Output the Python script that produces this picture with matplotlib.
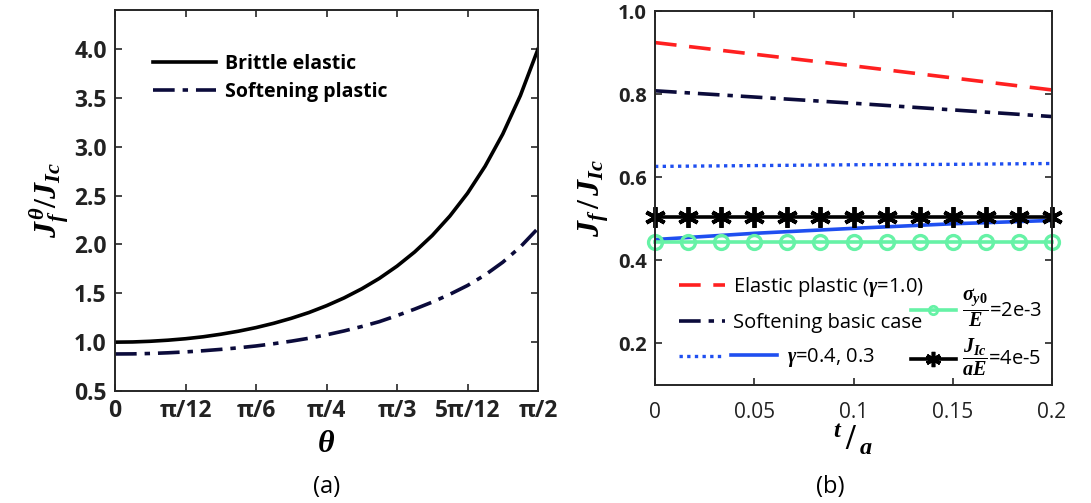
import numpy as np
import matplotlib
matplotlib.use("Agg")
import matplotlib.pyplot as plt
from matplotlib.lines import Line2D

plt.rcParams['font.family'] = ['Open Sans', 'DejaVu Sans']
plt.rcParams['mathtext.fontset'] = 'custom'
plt.rcParams['mathtext.it'] = 'Liberation Serif:italic:bold'
plt.rcParams['mathtext.rm'] = 'Liberation Serif:bold'
plt.rcParams['mathtext.bf'] = 'Liberation Serif:bold'

# ---------------- data (a) ----------------
theta_steps = list(range(25))          # theta = k*pi/48
brittle_elastic = [1.000, 1.002, 1.009, 1.020, 1.035, 1.055, 1.081, 1.112, 1.149,
                   1.193, 1.244, 1.303, 1.373, 1.453, 1.546, 1.653, 1.778, 1.923,
                   2.092, 2.291, 2.524, 2.801, 3.130, 3.524, 4.000]
softening_plastic = [0.879, 0.880, 0.884, 0.891, 0.900, 0.912, 0.926, 0.942, 0.961,
                     0.984, 1.010, 1.040, 1.075, 1.115, 1.160, 1.210, 1.272, 1.338,
                     1.410, 1.490, 1.580, 1.688, 1.818, 1.975, 2.165]
theta_tick_labels = ['0', 'π/12', 'π/6', 'π/4', 'π/3', '5π/12', 'π/2']
a_yticks = [0.5, 1.0, 1.5, 2.0, 2.5, 3.0, 3.5, 4.0]

# ---------------- data (b) ----------------
t_line = [0.0, 0.05, 0.10, 0.15, 0.20]
elastic_plastic = [0.924, 0.896, 0.868, 0.839, 0.810]
softening_basic = [0.808, 0.793, 0.778, 0.762, 0.746]
gamma_04 = [0.626, 0.628, 0.630, 0.631, 0.633]
gamma_03 = [0.450, 0.465, 0.477, 0.488, 0.496]
t_mark = [0.0, 0.2/12, 0.4/12, 0.6/12, 0.8/12, 1.0/12, 1.2/12, 1.4/12, 1.6/12,
          1.8/12, 2.0/12, 2.2/12, 0.2]
sigma_case = [0.445] * 13
jic_case = [0.504] * 13
b_xticks = [0, 0.05, 0.1, 0.15, 0.2]
b_xticklabels = ['0', '0.05', '0.1', '0.15', '0.2']
b_yticks = [0.2, 0.4, 0.6, 0.8, 1.0]

NAVY = '#0b0b3b'
RED = '#ff2020'
BLUE = '#1f4ff0'
GREEN = '#66f2a6'
SPINE = '#262626'

fig = plt.figure(figsize=(10.91, 5.03), dpi=100)
W, H = 1091, 503
def axrect(x0, x1, ytop, ybot):
    return [x0 / W, (H - ybot) / H, (x1 - x0) / W, (ybot - ytop) / H]

axa = fig.add_axes(axrect(115, 538, 10, 391))
axb = fig.add_axes(axrect(655, 1052, 11, 385))

def style(ax):
    for s in ax.spines.values():
        s.set_color(SPINE)
        s.set_linewidth(1.4)
    ax.tick_params(direction='in', length=5, width=1.2, color=SPINE,
                   top=True, right=True, labelcolor='#222222', pad=6)

DASHDOT = (0, (6, 2.2, 1.5, 2.2))

# ---- (a)
th = [k * np.pi / 48 for k in theta_steps]
axa.plot(th, brittle_elastic, color='black', lw=2.6, label='Brittle elastic')
axa.plot(th, softening_plastic, color=NAVY, lw=2.6, ls=DASHDOT,
         label='Softening plastic')
axa.set_xlim(0, np.pi / 2)
axa.set_ylim(0.5, 4.4)
axa.set_xticks([k * np.pi / 12 for k in range(7)])
axa.set_xticklabels(theta_tick_labels, fontsize=16.5, fontweight='bold')
axa.set_yticks(a_yticks)
axa.set_yticklabels([f'{v:.1f}' for v in a_yticks], fontsize=16.5, fontweight='bold')
style(axa)
axa.set_xlabel(r'$\theta$', fontsize=23, labelpad=3)
axa.set_ylabel(r'$J^{\theta}_{f}/J_{Ic}$', fontsize=23, labelpad=2)
axa.legend(loc='upper left', bbox_to_anchor=(0.068, 0.91), frameon=False,
           borderpad=0, handlelength=3.2, handletextpad=0.5, labelspacing=0.42,
           prop={'family': 'Open Sans', 'weight': 'bold', 'size': 14})

# ---- (b)
axb.plot(t_line, elastic_plastic, color=RED, lw=2.6, ls=(0, (6, 3.5)))
axb.plot(t_line, softening_basic, color=NAVY, lw=2.6, ls=DASHDOT)
axb.plot(t_line, gamma_04, color=BLUE, lw=2.4, ls=(0, (1, 1.3)))
axb.plot(t_line, gamma_03, color=BLUE, lw=2.6)
axb.plot(t_mark, sigma_case, color=GREEN, lw=2.6, marker='o', ms=10,
         mfc='none', mec=GREEN, mew=2.4, clip_on=False)
axb.plot(t_mark, jic_case, color='black', lw=2.6, marker=(6, 2, 0), ms=15,
         mec='black', mew=2.8, clip_on=False)
axb.set_xlim(0, 0.2)
axb.set_ylim(0.1, 1.0)
axb.set_xticks(b_xticks)
axb.set_xticklabels(b_xticklabels, fontsize=15)
axb.set_yticks(b_yticks)
axb.set_yticklabels([f'{v:.1f}' for v in b_yticks], fontsize=14.5, fontweight='bold')
style(axb)
axb.tick_params(axis='x', pad=12)
axb.tick_params(axis='y', pad=6)
axb.set_xlabel(r'${}^{t}\,/\,{}_{a}$', fontsize=25, labelpad=0)
axb.set_ylabel(r'$J_{f}\,/\,J_{Ic}$', fontsize=23, labelpad=5)

lprop = {'family': 'Open Sans', 'size': 14.5}
h1 = [Line2D([], [], color=RED, lw=2.6, ls=(0, (6, 3.5))),
      Line2D([], [], color=NAVY, lw=2.6, ls=DASHDOT),
      Line2D([], [], color=BLUE, lw=2.4, ls=(0, (1, 1.3)))]
leg1 = axb.legend(h1, [r'Elastic plastic ($\gamma$=1.0)', 'Softening basic case', ''],
                  loc='upper left', bbox_to_anchor=(0.035, 0.322), frameon=False,
                  handlelength=2.3, handletextpad=0.4, labelspacing=0.72, prop=lprop,
                  borderpad=0)
axb.add_artist(leg1)
h2 = [Line2D([], [], color=BLUE, lw=2.6)]
leg2 = axb.legend(h2, [r'$\gamma$=0.4, 0.3'], loc='upper left',
                  bbox_to_anchor=(0.165, 0.13), frameon=False, handlelength=2.3,
                  handletextpad=0.5, prop=lprop, borderpad=0)
axb.add_artist(leg2)
h3 = [Line2D([], [], color=GREEN, lw=2.6, marker='o', ms=6, mfc='none', mec=GREEN, mew=2),
      Line2D([], [], color='black', lw=2.6, marker=(6, 2, 0), ms=11, mec='black', mew=2.6)]
leg3 = axb.legend(h3, [r'$\dfrac{\sigma_{y0}}{E}$=2e-3', r'$\dfrac{J_{Ic}}{aE}$=4e-5'],
                  loc='upper left', bbox_to_anchor=(0.62, 0.29), frameon=False,
                  handlelength=2.2, handletextpad=0.3, labelspacing=0.38, prop=lprop,
                  borderpad=0)

fig.text(327 / W, 1 - 487 / H, '(a)', ha='center', va='center', fontsize=17,
         family='Open Sans')
fig.text(830 / W, 1 - 487 / H, '(b)', ha='center', va='center', fontsize=17,
         family='Open Sans')

fig.savefig('out.png', dpi=100)
